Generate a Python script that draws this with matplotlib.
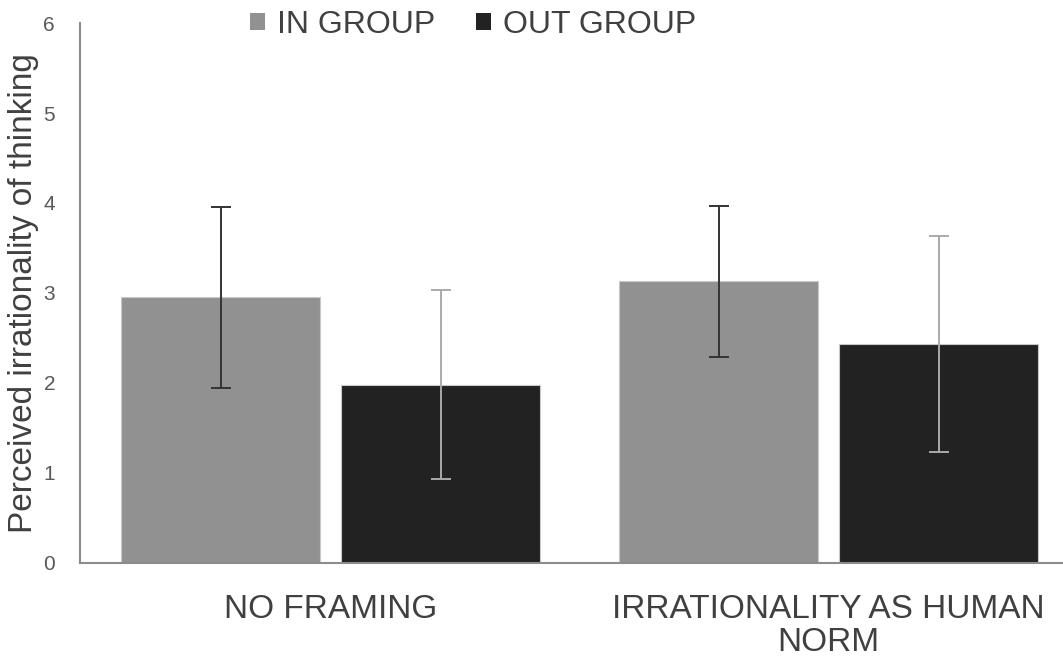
import numpy as np
from matplotlib import pyplot as plt
from matplotlib.patches import Patch

plt.rcParams['font.family'] = ['Liberation Sans', 'DejaVu Sans']

# data
conditions = ['NO FRAMING', 'IRRATIONALITY AS HUMAN\nNORM']
series = ['IN GROUP', 'OUT GROUP']
in_group = [2.95, 3.13]
in_group_err = [1.01, 0.84]
out_group = [1.98, 2.43]
out_group_err = [1.05, 1.20]

bar_colors = ['#919191', '#222222']
err_colors = ['#333333', '#aaaaaa']

fig = plt.figure(figsize=(10.63, 6.67), dpi=100)
ax = fig.add_axes([0.0753, 0.156, 0.9247, 0.8095])

x = np.arange(len(conditions))
w = 0.4
off = 0.221
vals = [in_group, out_group]
errs = [in_group_err, out_group_err]
for i in range(2):
    ax.bar(x + (i * 2 - 1) * off, vals[i], w, color=bar_colors[i],
           edgecolor='#c8c8c8', linewidth=0.8, zorder=2)
    ax.errorbar(x + (i * 2 - 1) * off, vals[i], yerr=errs[i], fmt='none',
                ecolor=err_colors[i], elinewidth=1.4, capsize=7, capthick=1.4, zorder=3)

ax.set_xlim(-0.504, 1.471)
ax.set_ylim(0, 6)
ax.set_yticks(range(7))
ax.set_xticks(x)
ax.set_xticklabels(conditions, fontsize=24, color='#404040', linespacing=1.1)
ax.tick_params(axis='x', length=0, pad=22)
ax.tick_params(axis='y', length=0, pad=18, labelsize=15, labelcolor='#595959')
ax.set_ylabel('Perceived irrationality of thinking', fontsize=24, color='#404040', labelpad=3)

for s in ['top', 'right']:
    ax.spines[s].set_visible(False)
for s in ['left', 'bottom']:
    ax.spines[s].set_color('#8c8c8c')
    ax.spines[s].set_linewidth(1.5)

handles = [Patch(facecolor=bar_colors[i], edgecolor='none', label=series[i]) for i in range(2)]
fig.legend(handles=handles, loc='center', bbox_to_anchor=(0.445, 0.963), ncol=2,
           frameon=False, fontsize=23, handlelength=0.47, handleheight=0.47,
           handletextpad=0.37, columnspacing=1.3, labelcolor='#404040')

fig.savefig('out.png', dpi=100)
